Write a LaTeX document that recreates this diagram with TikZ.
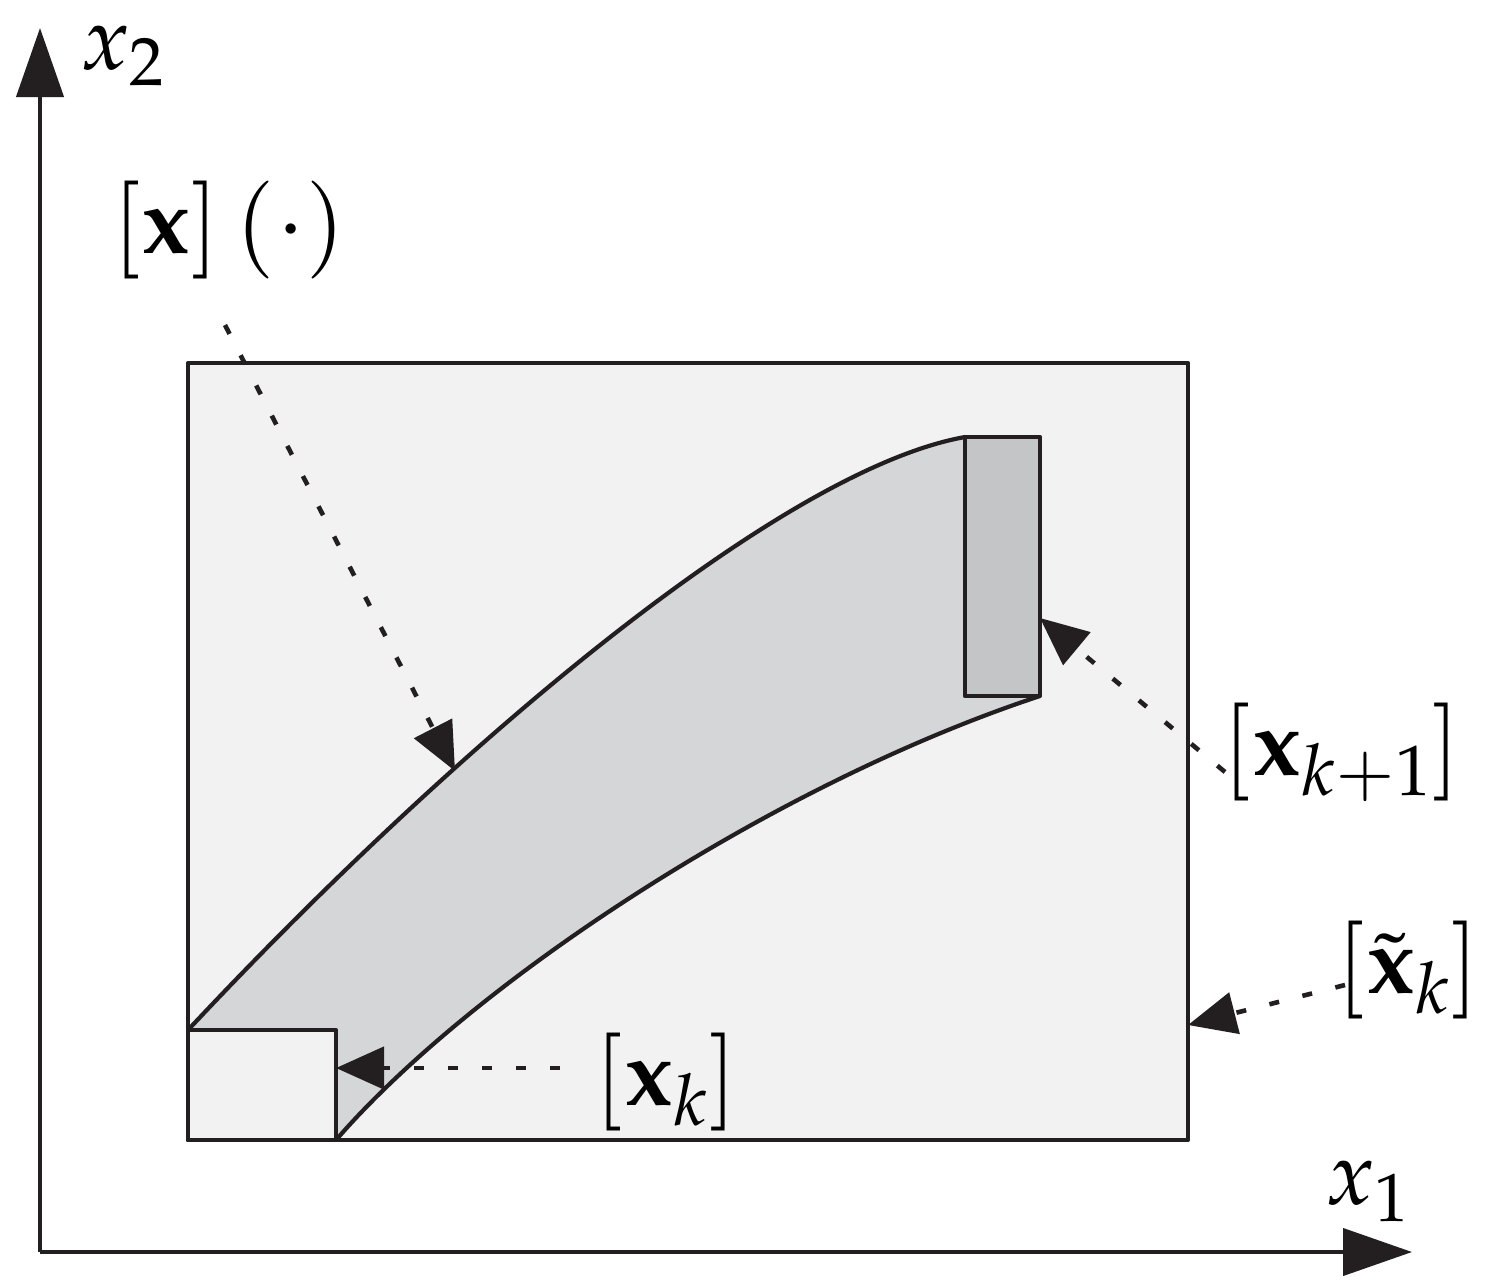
\documentclass[tikz,border=0pt]{standalone}
\usepackage{mathpazo}
\usetikzlibrary{arrows.meta}
\definecolor{ink}{HTML}{231F20}
\definecolor{domainfill}{HTML}{F2F2F2}
\definecolor{tubefill}{HTML}{D5D6D8}
\definecolor{boxfill}{HTML}{C4C5C7}
\tikzset{
  outline/.style={draw=ink, line width=2.1pt, line join=round},
  axisline/.style={draw=ink, line width=2.1pt, -{Triangle[length=34.5pt,width=23.5pt]}},
  pointer/.style={draw=ink, line width=2.3pt, dash pattern=on 5pt off 12pt, -{Triangle[length=24pt,width=21pt]}},
  lbl/.style={inner sep=0pt, font=\fontsize{47}{56}\selectfont},
  axlbl/.style={inner sep=0pt, font=\fontsize{45}{54}\selectfont},
}
\begin{document}
\begin{tikzpicture}[x=0.5pt,y=-0.5pt]
\useasboundingbox (0,0) rectangle (1492,1286);
% coordinates
\coordinate (O) at (40,1252);
\coordinate (Xend) at (1412,1252);
\coordinate (Yend) at (40,28);
\coordinate (Dtl) at (188,363);
\coordinate (Dbr) at (1188,1140);
\coordinate (Ktl) at (188,1030);
\coordinate (Kbr) at (336,1140);
\coordinate (Ntl) at (965,437);
\coordinate (Nbr) at (1040,696);
% outer domain
\path[outline, fill=domainfill] (Dtl) rectangle (Dbr);
% tube
\path[fill=tubefill] (Ktl) .. controls (450,750) and (780,470) .. (Ntl)
  -- (Nbr) .. controls (770,785) and (470,985) .. (Kbr) -- (336,1030) -- cycle;
\draw[outline] (Ktl) .. controls (450,750) and (780,470) .. (Ntl);
\draw[outline] (Kbr) .. controls (470,985) and (770,785) .. (Nbr);
% boxes
\path[outline, fill=domainfill] (Ktl) rectangle (Kbr);
\path[outline, fill=boxfill] (Ntl) rectangle (Nbr);
% axes
\draw[axisline] (O) -- (Xend);
\draw[axisline] (O) -- (Yend);
% labels
\node[axlbl, anchor=south west] (x2) at (80,86) {$x_2$};
\node[axlbl, anchor=south west] (x1) at (1325,1222) {$x_1$};
\node[lbl] (tube) at (229,230) {$\left[\mathbf{x}\right]\left(\cdot\right)$};
\node[lbl] (next) at (1342,752) {$\left[\mathbf{x}_{k+1}\right]$};
\node[lbl] (tilde) at (1408,970) {$\left[\tilde{\mathbf{x}}_k\right]$};
\node[lbl] (cur) at (666,1082) {$\left[\mathbf{x}_k\right]$};
% pointer ends
\coordinate (p1s) at (225,325);
\coordinate (p1e) at (455,771);
\coordinate (p2s) at (1225,772);
\coordinate (p2e) at (1040,618);
\coordinate (p3s) at (1345,985);
\coordinate (p3e) at (1188,1025);
\coordinate (p4s) at (560,1068);
\coordinate (p4e) at (336,1068);
\draw[pointer] (p1s) -- (p1e);
\draw[pointer] (p2s) -- (p2e);
\draw[pointer] (p3s) -- (p3e);
\draw[pointer] (p4s) -- (p4e);
\end{tikzpicture}
\end{document}
